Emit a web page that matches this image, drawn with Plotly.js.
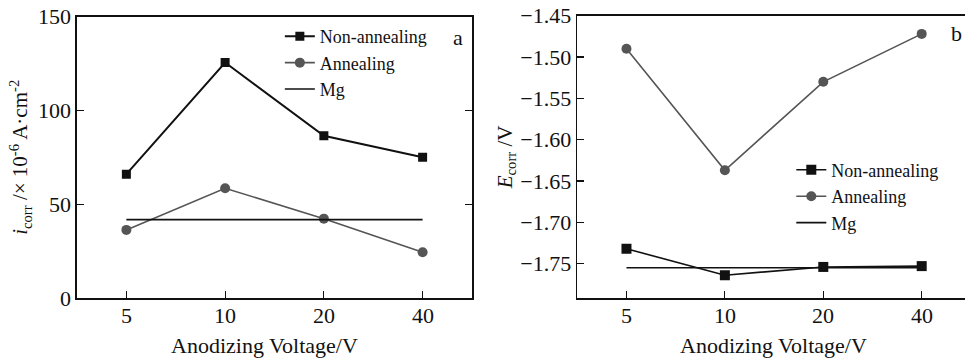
<!DOCTYPE html>
<html>
<head>
<meta charset="utf-8">
<script src="https://cdn.plot.ly/plotly-3.0.1.min.js"></script>
<style>html,body{margin:0;padding:0;background:#fff;}#chart{width:965px;height:361px;}</style>
</head>
<body>
<div id="chart"></div>
<script>
// ---- data ----
const voltages = ['5', '10', '20', '40'];
const icorrNonAnnealing = [66, 125.5, 86.5, 75];
const icorrAnnealing = [36.3, 58.5, 42.3, 24.4];
const icorrMg = [41.8, 41.8, 41.8, 41.8];
const ecorrNonAnnealing = [-1.732, -1.764, -1.754, -1.753];
const ecorrAnnealing = [-1.490, -1.637, -1.530, -1.472];
const ecorrMg = [-1.755, -1.755, -1.755, -1.755];
const leftYTicks = [0, 50, 100, 150];
const rightYTicks = [-1.75, -1.70, -1.65, -1.60, -1.55, -1.50, -1.45];
const rightYTickText = ['\u22121.75', '\u22121.70', '\u22121.65', '\u22121.60', '\u22121.55', '\u22121.50', '\u22121.45'];
const xTitle = 'Anodizing Voltage/V';

const FONT = 'Liberation Serif';
const black = '#111111';
const gray = '#555555';

const traces = [
  {x: voltages, y: icorrNonAnnealing, name: 'Non-annealing', mode: 'lines+markers', xaxis: 'x', yaxis: 'y', legend: 'legend',
   line: {color: black, width: 2}, marker: {symbol: 'square', size: 9, color: black}},
  {x: voltages, y: icorrAnnealing, name: 'Annealing', mode: 'lines+markers', xaxis: 'x', yaxis: 'y', legend: 'legend',
   line: {color: gray, width: 1.6}, marker: {symbol: 'circle', size: 10, color: gray}},
  {x: voltages, y: icorrMg, name: 'Mg', mode: 'lines', xaxis: 'x', yaxis: 'y', legend: 'legend',
   line: {color: black, width: 1.6}},
  {x: voltages, y: ecorrNonAnnealing, name: 'Non-annealing', mode: 'lines+markers', xaxis: 'x2', yaxis: 'y2', legend: 'legend2',
   line: {color: black, width: 1.6}, marker: {symbol: 'square', size: 10, color: black}},
  {x: voltages, y: ecorrAnnealing, name: 'Annealing', mode: 'lines+markers', xaxis: 'x2', yaxis: 'y2', legend: 'legend2',
   line: {color: gray, width: 1.6}, marker: {symbol: 'circle', size: 10, color: gray}},
  {x: voltages, y: ecorrMg, name: 'Mg', mode: 'lines', xaxis: 'x2', yaxis: 'y2', legend: 'legend2',
   line: {color: black, width: 1.6}}
];

function axisBase(extra) {
  return Object.assign({
    showgrid: false, zeroline: false, showline: true, linecolor: black, linewidth: 1.6,
    ticks: 'inside', ticklen: 7, tickwidth: 1.2, tickcolor: black,
    tickfont: {family: FONT, size: 22, color: black}
  }, extra);
}

// x tick labels (category index positions) and x titles placed as annotations, close to the axis like the reference
const annotations = [];
voltages.forEach((v, i) => {
  ['x', 'x2'].forEach(xr => annotations.push({
    text: v, xref: xr, yref: 'paper', x: i, y: 1 - 315 / 361, xanchor: 'center', yanchor: 'middle',
    showarrow: false, font: {family: FONT, size: 22, color: black}
  }));
});
annotations.push(
  {text: xTitle, xref: 'paper', yref: 'paper', x: 264 / 965, y: 1 - 345 / 361, xanchor: 'center', yanchor: 'middle',
   showarrow: false, font: {family: FONT, size: 22, color: black}},
  {text: xTitle, xref: 'paper', yref: 'paper', x: 773 / 965, y: 1 - 345 / 361, xanchor: 'center', yanchor: 'middle',
   showarrow: false, font: {family: FONT, size: 22, color: black}},
  {text: 'a', xref: 'paper', yref: 'paper', x: 0.4746, y: 1 - 37 / 361, xanchor: 'center', yanchor: 'middle',
   showarrow: false, font: {family: FONT, size: 22, color: black}},
  {text: 'b', xref: 'paper', yref: 'paper', x: 0.999, y: 1 - 34 / 361, xanchor: 'right', yanchor: 'middle',
   showarrow: false, font: {family: FONT, size: 22, color: black}}
);

const layout = {
  width: 965, height: 361,
  margin: {l: 0, r: 0, t: 0, b: 0},
  paper_bgcolor: '#ffffff', plot_bgcolor: '#ffffff',
  font: {family: FONT, size: 22, color: black},
  showlegend: true,
  xaxis: axisBase({
    domain: [0.0798, 0.4891], type: 'category', range: [-0.5, 3.5], mirror: true, showticklabels: false
  }),
  yaxis: axisBase({
    domain: [0.1745, 0.954], range: [0, 150], tickmode: 'array', tickvals: leftYTicks, ticktext: leftYTicks.map(String), mirror: 'ticks',
    title: {text: '<i>i</i><sub>corr</sub> /× 10<sup>-6</sup> A·cm<sup>-2</sup>', font: {family: FONT, size: 21, color: black}, standoff: 4}
  }),
  xaxis2: axisBase({
    domain: [0.5982, 1.0], type: 'category', range: [-0.5, 3.44], anchor: 'y2', mirror: true, showticklabels: false
  }),
  yaxis2: axisBase({
    domain: [0.1745, 0.9565], range: [-1.7916, -1.45], tickmode: 'array', tickvals: rightYTicks, ticktext: rightYTickText, anchor: 'x2', mirror: false,
    title: {text: '<i>E</i><sub>corr</sub> /V', font: {family: FONT, size: 21, color: black}, standoff: 2}
  }),
  legend: {x: 0.29, y: 0.95, xanchor: 'left', yanchor: 'top', bgcolor: 'rgba(0,0,0,0)',
           font: {family: FONT, size: 18, color: black}, tracegroupgap: 0, itemwidth: 30},
  legend2: {x: 0.82, y: 0.58, xanchor: 'left', yanchor: 'top', bgcolor: 'rgba(0,0,0,0)',
            font: {family: FONT, size: 18, color: black}, tracegroupgap: 0, itemwidth: 30},
  annotations: annotations
};

Plotly.newPlot('chart', traces, layout, {displayModeBar: false, staticPlot: true});
</script>
</body>
</html>
